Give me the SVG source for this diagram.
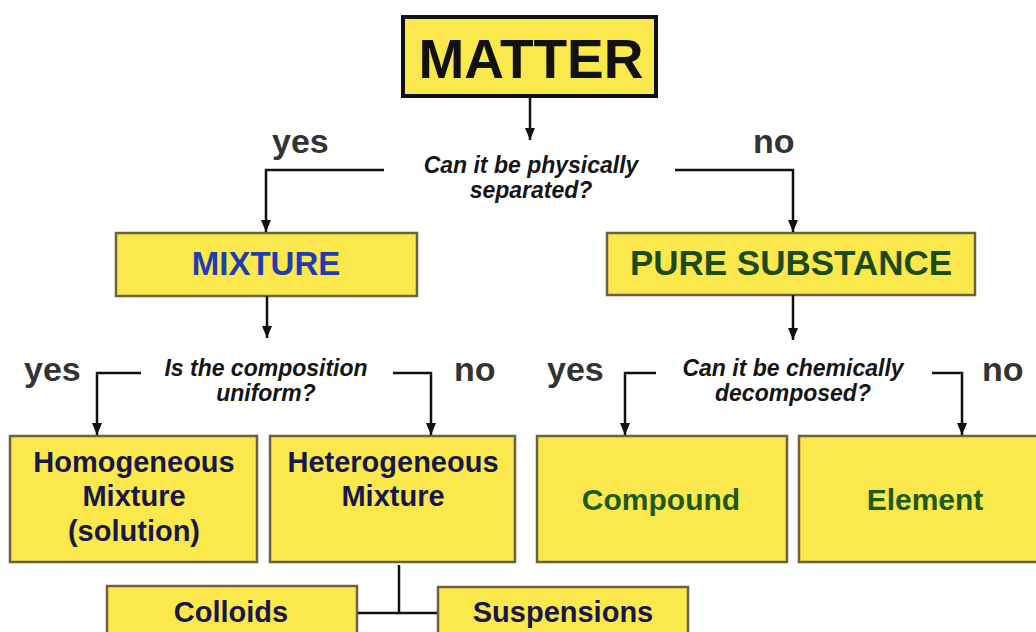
<svg xmlns="http://www.w3.org/2000/svg" width="1036" height="632" viewBox="0 0 1036 632">
<defs>
<marker id="ah" markerUnits="userSpaceOnUse" markerWidth="12" markerHeight="10" viewBox="0 0 12 10" refX="12" refY="5" orient="auto">
<path d="M0,0 L12,5 L0,10 Z" fill="#111"/>
</marker>
<style>
.box{fill:#fbe84c;stroke:#6e6040;stroke-width:2.5}
.t{font-family:"Liberation Sans",Arial,sans-serif;font-weight:bold;text-anchor:middle}
.q{font-family:"Liberation Sans",Arial,sans-serif;font-weight:bold;font-style:italic;font-size:23px;fill:#151515;text-anchor:middle}
.yn{font-family:"Liberation Sans",Arial,sans-serif;font-weight:bold;font-size:34px;fill:#333}
.ln{fill:none;stroke:#111;stroke-width:2.5}
.arr{fill:none;stroke:#111;stroke-width:2.5}
.navy{fill:#17174a;font-size:29px}
.green{fill:#1c5a16;font-size:30px}
</style>
</defs>
<rect width="1036" height="632" fill="#ffffff"/>

<g id="matter">
<rect x="403" y="17" width="253" height="79" fill="#fbe84c" stroke="#111" stroke-width="4"/>
<text class="t" x="531" y="78" font-size="55" fill="#111">MATTER</text>
</g>

<g id="q1">
<text class="q" x="531" y="173">Can it be physically</text>
<text class="q" x="531" y="198">separated?</text>
</g>
<g id="yes1"><text class="yn" x="272" y="153">yes</text></g>
<g id="no1"><text class="yn" x="753" y="153">no</text></g>

<g id="mixture">
<rect class="box" x="116" y="233" width="301" height="63"/>
<text class="t" x="266" y="275" font-size="33" fill="#1f3db0">MIXTURE</text>
</g>

<g id="pure">
<rect class="box" x="607" y="233" width="368" height="62"/>
<text class="t" x="791" y="275" font-size="35" fill="#1b4a1b">PURE SUBSTANCE</text>
</g>

<g id="q2">
<text class="q" x="266" y="376">Is the composition</text>
<text class="q" x="266" y="401">uniform?</text>
</g>
<g id="yes2"><text class="yn" x="24" y="381">yes</text></g>
<g id="no2"><text class="yn" x="454" y="381">no</text></g>

<g id="q3">
<text class="q" x="793" y="376">Can it be chemically</text>
<text class="q" x="793" y="401">decomposed?</text>
</g>
<g id="yes3"><text class="yn" x="547" y="381">yes</text></g>
<g id="no3"><text class="yn" x="982" y="381">no</text></g>

<g id="homogeneous">
<rect class="box" x="10" y="436" width="247" height="126"/>
<text class="t navy" x="134" y="472">Homogeneous</text>
<text class="t navy" x="134" y="506">Mixture</text>
<text class="t navy" x="134" y="541">(solution)</text>
</g>

<g id="heterogeneous">
<rect class="box" x="270" y="436" width="245" height="126"/>
<text class="t navy" x="393" y="472">Heterogeneous</text>
<text class="t navy" x="393" y="506">Mixture</text>
</g>

<g id="compound">
<rect class="box" x="537" y="436" width="250" height="126"/>
<text class="t green" x="661" y="510">Compound</text>
</g>

<g id="element">
<rect class="box" x="799" y="436" width="250" height="126"/>
<text class="t green" x="925" y="510">Element</text>
</g>

<g id="colloids">
<rect class="box" x="107" y="586" width="250" height="60"/>
<text class="t navy" x="231" y="622">Colloids</text>
</g>

<g id="suspensions">
<rect class="box" x="438" y="587" width="250" height="60"/>
<text class="t navy" x="563" y="622">Suspensions</text>
</g>

<g id="connectors">
<path class="arr" d="M530,97 V140" marker-end="url(#ah)"/>
<path class="arr" d="M384,170 H266 V232" marker-end="url(#ah)"/>
<path class="arr" d="M675,170 H793 V232" marker-end="url(#ah)"/>
<path class="arr" d="M267,296 V338" marker-end="url(#ah)"/>
<path class="arr" d="M793,295 V340" marker-end="url(#ah)"/>
<path class="arr" d="M141,373 H97 V435" marker-end="url(#ah)"/>
<path class="arr" d="M393,373 H431 V435" marker-end="url(#ah)"/>
<path class="arr" d="M656,373 H625 V435" marker-end="url(#ah)"/>
<path class="arr" d="M932,373 H962 V435" marker-end="url(#ah)"/>
<path class="ln" d="M399,565 V613"/>
<path class="ln" d="M358,613 H437"/>
</g>
</svg>
